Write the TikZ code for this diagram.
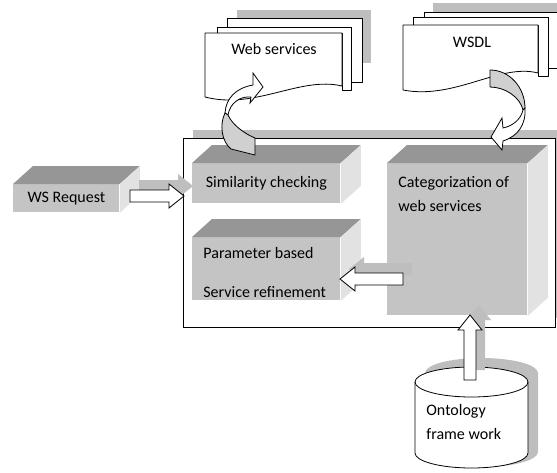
\documentclass[tikz,border=0pt]{standalone}
\usepackage{fontspec}
\setmainfont{Carlito}
\usetikzlibrary{calc,positioning}

\definecolor{frontface}{RGB}{196,196,196}
\definecolor{topface}{RGB}{150,150,150}
\definecolor{sideface}{RGB}{226,226,226}
\definecolor{shadowgray}{RGB}{190,190,190}
\definecolor{ribbongray}{RGB}{208,208,208}

% top and right faces of a 3D box
\newcommand{\boxfaces}[1]{%
  \fill[topface] (#1.north west) -- ++(20,-18) -- ($(#1.north east)+(20,-18)$) -- (#1.north east) -- cycle;
  \fill[sideface] (#1.north east) -- ++(20,-18) -- ($(#1.south east)+(20,-18)$) -- (#1.south east) -- cycle;
}

% white block arrow with its shadow
\newcommand{\blockarrow}[2]{%
  \fill[shadowgray] let \p1=($(#2)-(#1)$), \n1={atan2(\y1,\x1)}, \n2={veclen(\x1,\y1)} in
    [shift={($(#1)+(9pt,10pt)$)}, rotate=\n1]
    (0,-6) -- (\n2-15,-6) -- (\n2-15,-12) -- (\n2,0) -- (\n2-15,12) -- (\n2-15,6) -- (0,6) -- cycle;
  \draw[fill=white] let \p1=($(#2)-(#1)$), \n1={atan2(\y1,\x1)}, \n2={veclen(\x1,\y1)} in
    [shift={(#1)}, rotate=\n1]
    (0,-6) -- (\n2-15,-6) -- (\n2-15,-12) -- (\n2,0) -- (\n2-15,12) -- (\n2-15,6) -- (0,6) -- cycle;
}

\begin{document}
\begin{tikzpicture}[x=1pt, y=-1pt, line width=0.8pt,
    page/.style={draw, fill=white, line join=round},
    front/.style={fill=frontface, anchor=north west, inner sep=0pt, font=\fontsize{16}{24}\selectfont},
    boxtext/.style={align=left, inner sep=0pt, font=\fontsize{16}{24}\selectfont},
    pagetext/.style={inner sep=0pt, font=\fontsize{16}{24}\selectfont}]
    \useasboundingbox (0,0) rectangle (557,472);

    % web services stack
    \fill[shadowgray] (237,10) rectangle (371,63);
    \draw[page] (227,18) -- (362,18) -- (362,82) -- (351,82) -- (351,27) -- (227,27) -- cycle;
    \draw[page] (217,27) -- (351,27) -- (351,90) -- (342,90) -- (342,33) -- (217,33) -- cycle;
    \draw[page] (205,33) -- (342,33) -- (342,86) .. controls (300,76) and (255,110) .. (205,97) -- cycle;
    \node[pagetext] (websrv) at (274,49) {Web services};

    % WSDL stack
    \fill[shadowgray] (433,3) rectangle (570,55);
    \draw[page] (424,12) -- (570,12) -- (570,68) -- (548,68) -- (548,17) -- (424,17) -- cycle;
    \draw[page] (413,17) -- (548,17) -- (548,76) -- (538,76) -- (538,25) -- (413,25) -- cycle;
    \draw[page] (403,25) -- (538,25) -- (538,73) .. controls (500,63) and (455,100) .. (403,90) -- cycle;
    \node[pagetext] (wsdl) at (472,42) {WSDL};

    % main frame
    \fill[shadowgray] (193,130) rectangle (570,318);
    \node[draw, fill=white, anchor=north west, inner sep=0pt, minimum width=372pt, minimum height=189pt] (frame) at (183,138) {};

    % boxes
    \node[front, minimum width=106pt, minimum height=28pt] (req) at (13,184) {WS Request};
    \boxfaces{req}
    \node[front, minimum width=148pt, minimum height=40pt] (sim) at (192,163) {Similarity checking};
    \boxfaces{sim}
    \node[front, minimum width=148pt, minimum height=63pt] (param) at (192,237) {};
    \boxfaces{param}
    \node[front, minimum width=140pt, minimum height=152pt] (cat) at (387,163) {};
    \boxfaces{cat}

    \node[boxtext, below right=13pt and 11pt of cat.north west] (cattext) {Categorization of\\web services};
    \node[boxtext, below right=10pt and 11pt of param.north west] (paramtext) {Parameter based\\[15pt]Service refinement};

    % ontology cylinder
    \fill[shadowgray] (425,373) -- (425,452) arc[start angle=180, end angle=360, x radius=56.5pt, y radius=15pt]
        -- (538,373) arc[start angle=0, end angle=180, x radius=56.5pt, y radius=15pt] -- cycle;
    \draw[fill=white] (415,382) -- (415,453) arc[start angle=180, end angle=360, x radius=56.5pt, y radius=15pt]
        -- (528,382) arc[start angle=0, end angle=180, x radius=56.5pt, y radius=15pt] -- cycle;
    \draw (415,382) arc[start angle=180, end angle=360, x radius=56.5pt, y radius=15pt];
    \node[boxtext, anchor=north west] (onto) at (426,404) {Ontology\\frame work};

    % block arrows
    \coordinate (reqout) at (130,196);
    \coordinate (simin) at (184,196);
    \blockarrow{reqout}{simin}
    \coordinate (catout) at (403,279);
    \coordinate (paramin) at (340,279);
    \blockarrow{catout}{paramin}
    \coordinate (ontoout) at (470,380);
    \coordinate (catin) at (470,315);
    \blockarrow{ontoout}{catin}

    % curved arrows
    \draw[fill=white] (225,113) .. controls (226,98) and (236,88) .. (253,85) -- (253,73) -- (263,87)
        -- (250,103) -- (251,97) .. controls (240,96) and (230,103) .. (228,115) -- cycle;
    \draw[fill=ribbongray] (225,113) .. controls (219,125) and (222,142) .. (231,149) -- (255,155)
        -- (255,138) .. controls (243,133) and (232,124) .. (228,115) -- cycle;
    \draw[fill=ribbongray] (490,70) .. controls (510,70) and (525,88) .. (525,108) -- (523,110)
        .. controls (520,97) and (505,87) .. (490,87) -- cycle;
    \draw[fill=white] (525,108) .. controls (526,125) and (518,136) .. (503,141) -- (502,150) -- (491,137)
        -- (502,118) -- (503,128) .. controls (513,126) and (521,119) .. (523,110) -- cycle;
\end{tikzpicture}
\end{document}
